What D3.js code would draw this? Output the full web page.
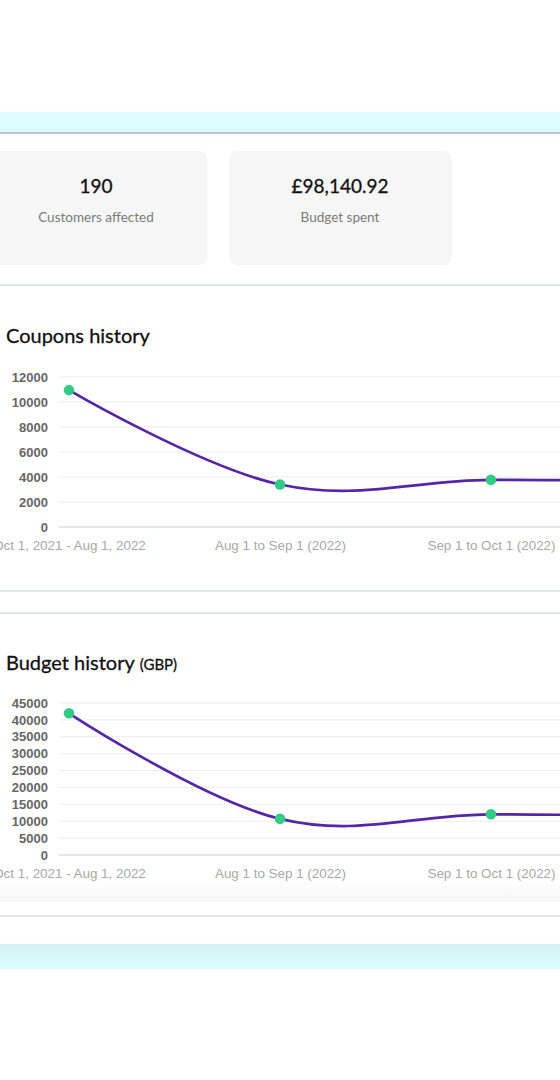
<!DOCTYPE html>
<html>
<head>
<meta charset="utf-8">
<script src="https://cdn.jsdelivr.net/npm/d3@7"></script>
<style>
  body { margin: 0; background: #fff; }
  #page { width: 560px; height: 1080px; overflow: hidden; }
</style>
</head>
<body>
<div id="page"></div>
<script>
// data
var periods = ["Oct 1, 2021 - Aug 1, 2022", "Aug 1 to Sep 1 (2022)", "Sep 1 to Oct 1 (2022)", "Oct 1 to Nov 1 (2022)"];
var coupons = [10950, 3400, 3770, 3550];
var budget = [41950, 10700, 12050, 11000];
var couponTicks = [0, 2000, 4000, 6000, 8000, 10000, 12000];
var budgetTicks = [0, 5000, 10000, 15000, 20000, 25000, 30000, 35000, 40000, 45000];
var statValues = ["190", "£98,140.92"];
var statLabels = ["Customers affected", "Budget spent"];

var titleFont = "Lato, 'Open Sans', sans-serif";
var axisFont = "'Liberation Sans', Arial, sans-serif";

var svg = d3.select("#page")
    .append("svg")
    .attr("width", 560).attr("height", 1080);

var defs = svg.append("defs");
var grad = defs.append("linearGradient").attr("id", "band").attr("x1", 0).attr("x2", 0).attr("y1", 0).attr("y2", 1);
grad.append("stop").attr("offset", "0%").attr("stop-color", "#d2f3f5");
grad.append("stop").attr("offset", "100%").attr("stop-color", "#dcfefe");
var shade = defs.append("linearGradient").attr("id", "shade").attr("x1", 0).attr("x2", 0).attr("y1", 0).attr("y2", 1);
shade.append("stop").attr("offset", "0%").attr("stop-color", "#ffffff");
shade.append("stop").attr("offset", "100%").attr("stop-color", "#f7f7f7");

// top band
svg.append("rect").attr("x", 0).attr("y", 112).attr("width", 560).attr("height", 21).attr("fill", "#dcfdfe");
svg.append("line").attr("x1", 0).attr("x2", 560).attr("y1", 133).attr("y2", 133)
    .attr("stroke", "#8489bd").attr("stroke-width", 1.2);

// stat cards
var cardX = [-20, 229];
var cardW = [227, 223];
var cards = svg.selectAll("g.card")
    .data(statValues)
    .enter().append("g")
    .attr("class", "card");
cards.append("rect")
    .attr("x", function(d, i) { return cardX[i]; })
    .attr("y", 151).attr("width", function(d, i) { return cardW[i]; }).attr("height", 114)
    .attr("rx", 8).attr("fill", "#f6f6f6");
cards.append("text")
    .attr("x", function(d, i) { return i == 0 ? 96 : 340; })
    .attr("y", 193)
    .attr("text-anchor", "middle")
    .attr("font-family", titleFont).attr("font-size", 19).attr("fill", "#111")
    .attr("stroke", "#111").attr("stroke-width", 0.3)
    .text(function(d) { return d; });
cards.append("text")
    .attr("x", function(d, i) { return i == 0 ? 96 : 340; })
    .attr("y", 222)
    .attr("text-anchor", "middle")
    .attr("font-family", titleFont).attr("font-size", 13.5).attr("fill", "#7a7a7a")
    .text(function(d, i) { return statLabels[i]; });

// separators
[285, 591, 613, 916].forEach(function(y) {
  svg.append("line").attr("x1", 0).attr("x2", 560).attr("y1", y).attr("y2", y)
      .attr("stroke", "#d9dcdc").attr("stroke-width", 1.3);
});

// faint shading under the budget chart
svg.append("rect").attr("x", 0).attr("y", 878).attr("width", 560).attr("height", 24).attr("fill", "url(#shade)");

// bottom band
svg.append("rect").attr("x", 0).attr("y", 944).attr("width", 560).attr("height", 25).attr("fill", "url(#band)");

var x = d3.scalePoint().domain(periods).range([69, 702]);

function drawChart(cfg) {
  var g = svg.append("g");
  var y = d3.scaleLinear().domain([0, d3.max(cfg.ticks)]).range([cfg.bottom, cfg.top]);

  // title
  var t = g.append("text").attr("x", 6).attr("y", cfg.titleY)
      .attr("font-family", titleFont).attr("font-size", 20).attr("fill", "#111")
      .attr("stroke", "#111").attr("stroke-width", 0.3);
  t.append("tspan").text(cfg.title);
  if (cfg.unit) {
    t.append("tspan").attr("font-size", 15).attr("dx", 5).text(cfg.unit);
  }

  // grid
  g.selectAll("line.grid")
      .data(cfg.ticks)
      .enter().append("line")
      .attr("class", "grid")
      .attr("x1", 59).attr("x2", 560)
      .attr("y1", function(d) { return y(d); }).attr("y2", function(d) { return y(d); })
      .attr("stroke", function(d) { return d == 0 ? "#cfcfcf" : "#ececec"; })
      .attr("stroke-width", 1);

  // y axis
  var yAxis = d3.axisLeft(y).tickValues(cfg.ticks).tickSize(0).tickPadding(0).tickFormat(d3.format("d"));
  var ya = g.append("g").attr("transform", "translate(48,0)").call(yAxis);
  ya.select(".domain").remove();
  ya.selectAll("text")
      .attr("font-family", axisFont).attr("font-size", 13).attr("font-weight", "bold").attr("fill", "#666");

  // x axis
  var xAxis = d3.axisBottom(x).tickSize(0).tickPadding(0);
  var xa = g.append("g").attr("transform", "translate(0," + (cfg.bottom + 13) + ")").call(xAxis);
  xa.select(".domain").remove();
  xa.selectAll("text")
      .attr("font-family", axisFont).attr("font-size", 13.4).attr("fill", "#a8a8a8");

  // line
  var line = d3.line()
      .x(function(d, i) { return x(periods[i]); })
      .y(function(d) { return y(d); })
      .curve(d3.curveCardinal.tension(-0.1));
  g.append("path")
      .datum(cfg.values)
      .attr("d", line)
      .attr("fill", "none")
      .attr("stroke", "#5526a8")
      .attr("stroke-width", 2.7);

  g.selectAll("circle")
      .data(cfg.values)
      .enter().append("circle")
      .attr("cx", function(d, i) { return x(periods[i]); })
      .attr("cy", function(d) { return y(d); })
      .attr("r", 5.3)
      .attr("fill", "#33c987");
}

drawChart({ title: "Coupons history", titleY: 343, values: coupons, ticks: couponTicks, top: 377, bottom: 527 });
drawChart({ title: "Budget history", unit: "(GBP)", titleY: 670, values: budget, ticks: budgetTicks, top: 703, bottom: 855 });
</script>
</body>
</html>
